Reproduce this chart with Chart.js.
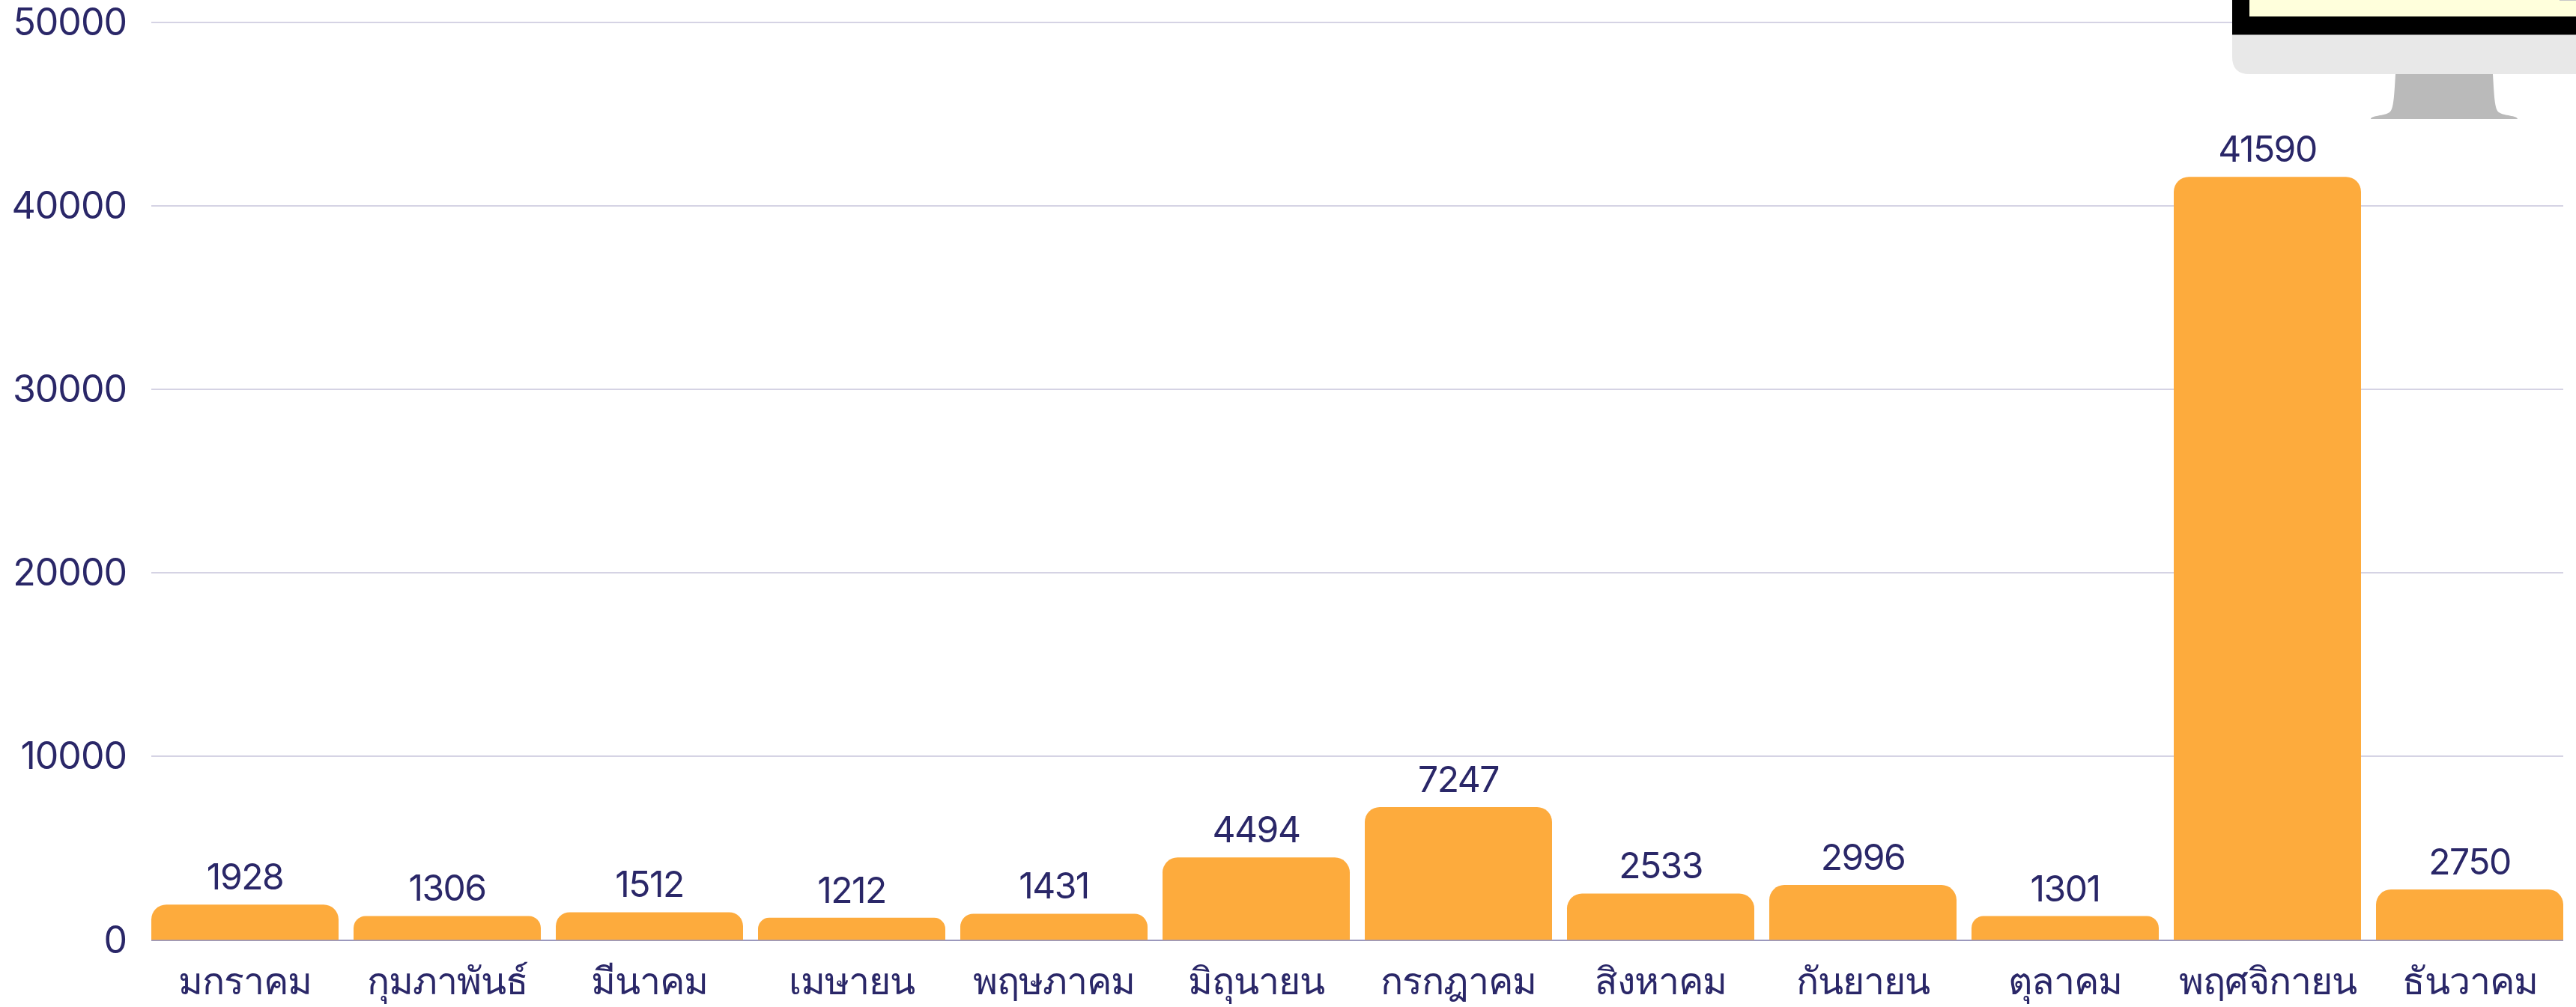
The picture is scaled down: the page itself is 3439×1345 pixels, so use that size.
<!DOCTYPE html>
<html><head><meta charset="utf-8">
<style>html,body{margin:0;padding:0;background:#fff;overflow:hidden}#w{position:relative;width:3439px;height:1345px}canvas{position:absolute;left:0;top:0}svg{position:absolute;left:0;top:0}</style>
<script src="https://cdn.jsdelivr.net/npm/chart.js@4"></script>
</head><body><div id="w"><canvas id="c" width="3439" height="1345"></canvas>
<svg width="3439" height="1345" viewBox="0 0 3439 1345">
<path d="M3198 99 L3328 99 C3330 135 3331 146 3336 150 C3342 155 3361 154 3361 159 L3165 159 C3165 154 3184 155 3190 150 C3195 146 3196 135 3198 99Z" fill="#bababa"/>
<path d="M2980 46 H3439 V99 H3003 Q2980 99 2980 76Z" fill="#e8e8e8"/>
<rect x="2980" y="0" width="459" height="46" fill="#000"/>
<rect x="2980" y="46" width="459" height="1" fill="#8c8c8c"/>
<rect x="3003" y="0" width="436" height="22" fill="#ffffdc"/>
<rect x="3417" y="0" width="22" height="1" fill="#c8c8c8"/>
</svg></div>
<script>
const categories=["มกราคม","กุมภาพันธ์","มีนาคม","เมษายน","พฤษภาคม","มิถุนายน","กรกฎาคม","สิงหาคม","กันยายน","ตุลาคม","พฤศจิกายน","ธันวาคม"];
const values=[1928,1306,1512,1212,1431,4494,7247,2533,2996,1301,41590,2750];
const yTicks=[0,10000,20000,30000,40000,50000];
const ink="#2a2768",barColor="#fdab3d",gridColor="#d5d3e4",zeroColor="#9b98bd";
const font="Inter,'Liberation Sans','Noto Sans',sans-serif";
const gridPlugin={id:"grid",
 beforeDraw(ch){ch.ctx.letterSpacing="-1px";},
 beforeDatasetsDraw(ch){
  const c=ch.ctx,y=ch.scales.y,bars=ch.getDatasetMeta(0).data;
  const l=bars[0].x-bars[0].width/2,r=bars[bars.length-1].x+bars[bars.length-1].width/2;
  c.save();c.lineWidth=2;
  yTicks.forEach(t=>{const p=Math.round(y.getPixelForValue(t));c.strokeStyle=t===0?zeroColor:gridColor;c.beginPath();c.moveTo(l,p);c.lineTo(r,p);c.stroke();});
  c.restore();
}};
const labelPlugin={id:"labels",afterDatasetsDraw(ch){
  const c=ch.ctx;c.save();c.fillStyle=ink;c.font="48px "+font;c.textAlign="center";c.textBaseline="alphabetic";c.letterSpacing="-1.5px";
  ch.getDatasetMeta(0).data.forEach((b,i)=>c.fillText(String(values[i]),b.x,b.y-20));
  c.restore();
}};
new Chart(document.getElementById("c"),{type:"bar",
 data:{labels:categories,datasets:[{data:values,backgroundColor:barColor,barPercentage:250/270,categoryPercentage:1,borderRadius:{topLeft:20,topRight:20,bottomLeft:0,bottomRight:0},borderSkipped:false}]},
 plugins:[gridPlugin,labelPlugin],
 options:{responsive:false,animation:false,devicePixelRatio:1,
  layout:{padding:{top:30,left:0,right:7,bottom:0}},
  plugins:{legend:{display:false},tooltip:{enabled:false},title:{display:false}},
  scales:{
   x:{grid:{display:false},border:{display:false},
      ticks:{color:ink,font:{size:50,family:font},padding:19,maxRotation:0,minRotation:0,autoSkip:false},
      afterFit(s){s.height=89.5;}},
   y:{min:0,max:50000,grid:{display:false},border:{display:false},
      afterBuildTicks(s){s.ticks=yTicks.map(v=>({value:v}));},
      ticks:{color:ink,font:{size:50,family:font},padding:15,labelOffset:2,callback:v=>String(v)},
      afterFit(s){s.width=192;s.paddingTop=0;s.paddingBottom=0;}}
  }}});
</script></body></html>
